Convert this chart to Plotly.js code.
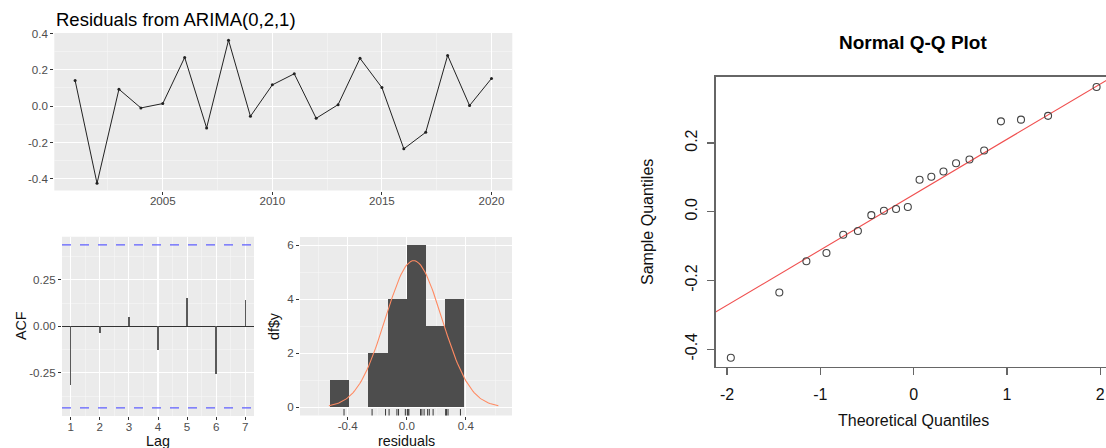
<!DOCTYPE html>
<html><head><meta charset="utf-8">
<script src="https://cdn.plot.ly/plotly-3.0.1.min.js"></script>
<style>html,body{margin:0;padding:0;background:#fff}#chart{width:1106px;height:448px}</style>
</head><body><div id="chart"></div>
<script>
// ---------- data ----------
const years = [2001,2002,2003,2004,2005,2006,2007,2008,2009,2010,2011,2012,2013,2014,2015,2016,2017,2018,2019,2020];
const residuals = [0.141,-0.425,0.093,-0.010,0.014,0.268,-0.120,0.363,-0.056,0.117,0.178,-0.067,0.008,0.263,0.102,-0.235,-0.144,0.279,0.003,0.152];
const acfLags = [1,2,3,4,5,6,7];
const acfValues = [-0.316,-0.036,0.048,-0.125,0.152,-0.254,0.139];
const theoreticalQuantiles = [-1.960,-1.440,-1.150,-0.935,-0.755,-0.598,-0.454,-0.319,-0.189,-0.063,0.063,0.189,0.319,0.454,0.598,0.755,0.935,1.150,1.440,1.960];

// tick labels
const tsYearTicks = [2005,2010,2015,2020];
const tsYearLabels = ['2005','2010','2015','2020'];
const tsResidTicks = [-0.4,-0.2,0,0.2,0.4];
const tsResidLabels = ['-0.4','-0.2','0.0','0.2','0.4'];
const acfLagLabels = ['1','2','3','4','5','6','7'];
const acfTicks = [-0.25,0,0.25];
const acfTickLabels = ['-0.25','0.00','0.25'];
const histXTicks = [-0.4,0,0.4];
const histXLabels = ['-0.4','0.0','0.4'];
const histYTicks = [0,2,4,6];
const histYLabels = ['0','2','4','6'];
const qqXTicks = [-2,-1,0,1,2];
const qqXLabels = ['-2','-1','0','1','2'];
const qqYTicks = [-0.4,-0.2,0,0.2];
const qqYLabels = ['-0.4','-0.2','0.0','0.2'];

// ---------- derived ----------
const n = residuals.length;
const mean = residuals.reduce((a,b)=>a+b,0)/n;
const sd = Math.sqrt(residuals.reduce((a,b)=>a+(b-mean)*(b-mean),0)/(n-1));
const binWidth = 0.13;
const ci = 1.96/Math.sqrt(n);
const sorted = residuals.slice().sort((a,b)=>a-b);
function q7(arr,p){const h=(arr.length-1)*p;const lo=Math.floor(h);return arr[lo]+(h-lo)*(arr[Math.min(lo+1,arr.length-1)]-arr[lo]);}
const zq = 0.6744897501960817;
const qq1 = q7(sorted,0.25), qq3 = q7(sorted,0.75);
const qqSlope = (qq3-qq1)/(2*zq);
const qqInt = qq1 + qqSlope*zq;
const curveX = [], curveY = [];
for(let i=0;i<=120;i++){const x=mean-3*sd+6*sd*i/120;curveX.push(x);curveY.push(n*binWidth*Math.exp(-0.5*((x-mean)/sd)**2)/(sd*Math.sqrt(2*Math.PI)));}

// ---------- layout helpers ----------
const W=1106,H=448;
const fx=p=>p/W, fy=p=>1-p/H;
const FONT='Liberation Sans, Arial, sans-serif';
function gg(range,domain,anchor,tickvals,ticktext,minorvals,isX){
  const a = {range,domain,anchor,tickmode:'array',tickvals,ticktext,ticks:'outside',ticklen:3,tickwidth:1,tickcolor:'#333',
    tickfont:{family:FONT,size:11.6,color:'#4D4D4D'},showgrid:true,gridcolor:'#FFFFFF',gridwidth:1.1,zeroline:false,showline:false,
    fixedrange:true,automargin:false,
    minor:{tickmode:'array',tickvals:minorvals,showgrid:true,gridcolor:'#F6F6F6',gridwidth:0.6,ticks:''}};
  if(isX) a.ticklabelstandoff = -3;
  return a;
}
const bg = (ax)=>({type:'rect',xref:'x'+ax+' domain',yref:'y'+ax+' domain',x0:0,x1:1,y0:0,y1:1,fillcolor:'#EBEBEB',line:{width:0},layer:'below'});

const traces = [
  {type:'scatter',mode:'lines+markers',x:years,y:residuals,xaxis:'x',yaxis:'y',line:{color:'#222',width:1},marker:{color:'#222',size:3},hoverinfo:'skip'},
  {type:'bar',x:acfLags,y:acfValues,width:0.05,xaxis:'x2',yaxis:'y2',marker:{color:'#595959',line:{width:0}},hoverinfo:'skip'},
  {type:'histogram',x:residuals,autobinx:false,xbins:{start:-0.52,end:0.52,size:binWidth},xaxis:'x3',yaxis:'y3',marker:{color:'#4D4D4D',line:{width:0}},hoverinfo:'skip'},
  {type:'scatter',mode:'lines',x:curveX,y:curveY,xaxis:'x3',yaxis:'y3',line:{color:'#ff8a62',width:1.1},hoverinfo:'skip'},
  {type:'scatter',mode:'markers',x:residuals,y:residuals.map(()=>-0.2),xaxis:'x3',yaxis:'y3',marker:{symbol:'line-ns',size:5.4,color:'#222',line:{width:0.9,color:'#222'}},hoverinfo:'skip'},
  {type:'scatter',mode:'lines',x:[-3,3],y:[qqInt-3*qqSlope,qqInt+3*qqSlope],xaxis:'x4',yaxis:'y4',line:{color:'rgb(240,80,80)',width:1.1},hoverinfo:'skip'},
  {type:'scatter',mode:'markers',x:theoreticalQuantiles,y:sorted,xaxis:'x4',yaxis:'y4',cliponaxis:false,marker:{symbol:'circle-open',size:7,color:'#444',line:{width:1.1,color:'#444'}},hoverinfo:'skip'}
];

const layout = {
  width:W,height:H,margin:{l:0,r:0,t:0,b:0},paper_bgcolor:'#fff',plot_bgcolor:'rgba(0,0,0,0)',showlegend:false,bargap:0,
  font:{family:FONT},
  xaxis:gg([2000.05,2020.95],[fx(54.3),fx(512.3)],'y',tsYearTicks,tsYearLabels,[2002.5,2007.5,2012.5,2017.5],true),
  yaxis:gg([-0.4644,0.4024],[fy(190.5),fy(33)],'x',tsResidTicks,tsResidLabels,[-0.3,-0.1,0.1,0.3]),
  xaxis2:gg([0.7,7.3],[fx(62),fx(254)],'y2',acfLags,acfLagLabels,[1.5,2.5,3.5,4.5,5.5,6.5],true),
  yaxis2:Object.assign(gg([-0.482,0.482],[fy(416),fy(236.7)],'x2',acfTicks,acfTickLabels,[-0.375,-0.125,0.125,0.375]),{zeroline:true,zerolinecolor:'#333',zerolinewidth:1.2}),
  xaxis3:gg([-0.723,0.712],[fx(300),fx(512)],'y3',histXTicks,histXLabels,[-0.6,-0.2,0.2,0.6],true),
  yaxis3:gg([-0.3,6.3],[fy(415.5),fy(237)],'x3',histYTicks,histYLabels,[1,3,5]),
  xaxis4:{range:[-2.122,2.061],domain:[fx(715.7),1],anchor:'y4',tickmode:'array',tickvals:qqXTicks,ticktext:qqXLabels,ticks:'outside',ticklen:7,tickwidth:1.2,tickcolor:'#666',
    showline:true,linecolor:'#666',linewidth:1.3,mirror:true,showgrid:false,zeroline:false,fixedrange:true,automargin:false,ticklabelstandoff:6,
    tickfont:{family:FONT,size:16,color:'#111'}},
  yaxis4:{range:[-0.451,0.393],domain:[fy(366.7),fy(76.7)],anchor:'x4',tickmode:'array',tickvals:qqYTicks,ticktext:qqYLabels,ticks:'outside',ticklen:7,tickwidth:1.2,tickcolor:'#666',
    showline:true,linecolor:'#666',linewidth:1.3,mirror:false,showgrid:false,zeroline:false,fixedrange:true,automargin:false,tickangle:-90,ticklabelstandoff:4,
    tickfont:{family:FONT,size:16,color:'#111'}},
  shapes:[bg(''),bg('2'),bg('3'),
    {type:'line',xref:'x2 domain',yref:'y2',x0:0,x1:1,y0:ci,y1:ci,line:{color:'#6060FF',width:1.1,dash:'dash'}},
    {type:'line',xref:'x2 domain',yref:'y2',x0:0,x1:1,y0:-ci,y1:-ci,line:{color:'#6060FF',width:1.1,dash:'dash'}}],
  annotations:[
    {text:'Residuals from ARIMA(0,2,1)',xref:'paper',yref:'paper',x:fx(54),y:fy(19),xanchor:'left',yanchor:'middle',showarrow:false,font:{family:FONT,size:18.5,color:'#000'}},
    {text:'<b>Normal Q-Q Plot</b>',xref:'paper',yref:'paper',x:fx(913),y:fy(42),xanchor:'center',yanchor:'middle',showarrow:false,font:{family:FONT,size:19,color:'#000'}},
    {text:'ACF',xref:'paper',yref:'paper',x:fx(21),y:fy(326),textangle:-90,xanchor:'center',yanchor:'middle',showarrow:false,font:{family:FONT,size:14.3,color:'#111'}},
    {text:'Lag',xref:'paper',yref:'paper',x:fx(158),y:fy(440.5),xanchor:'center',yanchor:'middle',showarrow:false,font:{family:FONT,size:14.3,color:'#111'}},
    {text:'df$y',xref:'paper',yref:'paper',x:fx(274),y:fy(326),textangle:-90,xanchor:'center',yanchor:'middle',showarrow:false,font:{family:FONT,size:14.3,color:'#111'}},
    {text:'residuals',xref:'paper',yref:'paper',x:fx(406),y:fy(440.5),xanchor:'center',yanchor:'middle',showarrow:false,font:{family:FONT,size:14.3,color:'#111'}},
    {text:'Sample Quantiles',xref:'paper',yref:'paper',x:fx(647),y:fy(222),textangle:-90,xanchor:'center',yanchor:'middle',showarrow:false,font:{family:FONT,size:16,color:'#111'}},
    {text:'Theoretical Quantiles',xref:'paper',yref:'paper',x:fx(913),y:fy(420),xanchor:'center',yanchor:'middle',showarrow:false,font:{family:FONT,size:16,color:'#111'}}
  ]
};
Plotly.newPlot('chart',traces,layout,{staticPlot:true,displayModeBar:false});
</script>
</body></html>
